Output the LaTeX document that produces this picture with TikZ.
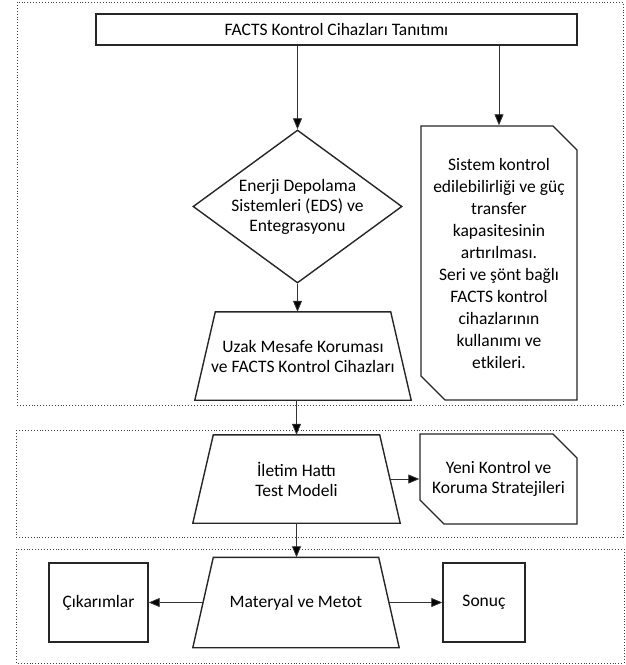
\documentclass[tikz,border=0pt]{standalone}
\usepackage{fontspec}
\setmainfont{Carlito}
\usetikzlibrary{shapes.geometric,shapes.misc,arrows.meta}

\tikzset{
  box/.style={draw=black!85, line width=1.4pt, fill=white, align=center, inner sep=0pt},
  trap/.style={align=center, inner sep=0pt, append after command={
    \pgfextra{\draw[line width=1.4pt, draw=black!85]
      ([xshift=20.5pt]\tikzlastnode.north west) -- ([xshift=-20.5pt]\tikzlastnode.north east)
      -- (\tikzlastnode.south east) -- (\tikzlastnode.south west) -- cycle;}}},
  snip/.style={box, chamfered rectangle,
    chamfered rectangle corners={north east,south west},
    chamfered rectangle xsep=12pt, chamfered rectangle ysep=12pt},
  arr/.style={-{Triangle[length=11pt,width=9pt,fill=black]}, line width=0.8pt, draw=black!80},
  group/.style={draw=black!75, line width=0.9pt, dash pattern=on 0.9pt off 2pt}
}

\begin{document}
\begin{tikzpicture}[x=1pt, y=-1pt, font=\fontsize{17.5}{20}\selectfont]
\useasboundingbox (0,0) rectangle (625,665);

% Groups
\draw[group] (17,2) rectangle (623,405);
\draw[group] (16,430) rectangle (623,537);
\draw[group] (16,549) rectangle (624,663);

% Top part
\node[box, minimum width=481pt, minimum height=31pt] (intro) at (336.5,29.5)
  {FACTS Kontrol Cihazları Tanıtımı};
\node[box, diamond, minimum width=209pt, minimum height=153pt,
  label={[align=center]center:Enerji Depolama\\Sistemleri (EDS) ve\\Entegrasyonu}]
  (eds) at (297.5,206.5) {};
\node[snip, minimum width=156pt, minimum height=274pt,
  font=\fontsize{17.5}{22}\selectfont] (goal) at (499,263)
  {Sistem kontrol\\edilebilirliği ve güç\\transfer\\kapasitesinin\\artırılması.\\Seri ve şönt bağlı\\FACTS kontrol\\cihazlarının\\kullanımı ve\\etkileri.};
\node[trap, minimum width=216pt, minimum height=88pt] (uzak) at (303,356)
  {Uzak Mesafe Koruması\\ve FACTS Kontrol Cihazları};

% Middle part
\node[trap, minimum width=207pt, minimum height=88pt] (iletim) at (296.5,479)
  {İletim Hattı\\Test Modeli};
\node[snip, minimum width=157pt, minimum height=90pt] (yeni) at (498.5,479)
  {Yeni Kontrol ve\\Koruma Stratejileri};

% Bottom part
\node[trap, minimum width=206pt, minimum height=90pt] (materyal) at (296,602.5)
  {Materyal ve Metot};
\node[box, minimum width=99pt, minimum height=79pt] (cikarim) at (98.5,602.5)
  {Çıkarımlar};
\node[box, minimum width=82pt, minimum height=79pt] (sonuc) at (484,602.5)
  {Sonuç};

% Arrows
\draw[arr] (intro.south -| eds.north) -- (eds.north);
\draw[arr] (intro.south -| goal.north) -- (goal.north);
\draw[arr] (eds.south) -- (eds.south |- uzak.north);
\draw[arr] (iletim.north |- uzak.south) -- (iletim.north);
\draw[arr] ([xshift=-10pt]iletim.east) -- (yeni.west);
\draw[arr] (iletim.south) -- (iletim.south |- materyal.north);
\draw[arr] ([xshift=10pt]materyal.west) -- (cikarim.east);
\draw[arr] ([xshift=-10pt]materyal.east) -- (sonuc.west);
\end{tikzpicture}
\end{document}
